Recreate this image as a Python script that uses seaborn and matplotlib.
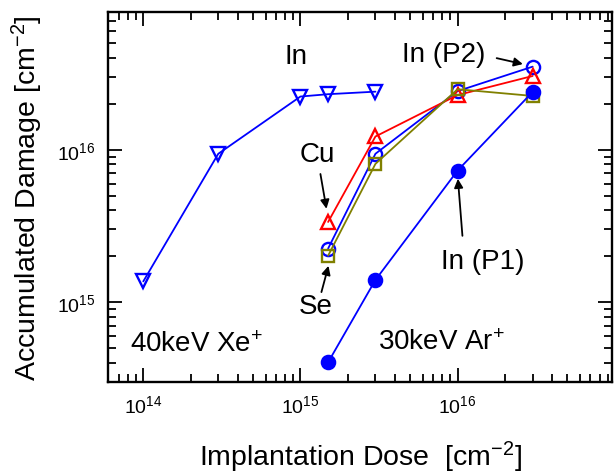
import numpy as np
import pandas as pd
import matplotlib
matplotlib.use("Agg")
import matplotlib.pyplot as plt
import seaborn as sns
from matplotlib.ticker import LogLocator, NullFormatter

# dose values [cm^-2]
xe_dose = [1e14, 3e14, 1e15, 1.5e15, 3e15]
ar_dose = [1.5e15, 3e15, 1e16, 3e16]

# accumulated damage [cm^-2]
in_xe = [1.37e15, 9.4e15, 2.23e16, 2.31e16, 2.4e16]
in_p2 = [2.25e15, 9.4e15, 2.42e16, 3.5e16]
cu = [3.36e15, 1.22e16, 2.28e16, 3.04e16]
se = [2.02e15, 8.07e15, 2.49e16, 2.25e16]
in_p1 = [4.04e14, 1.4e15, 7.3e15, 2.39e16]

series = [
    # name, dose, damage, color, marker, filled
    ("In Xe", xe_dose, in_xe, "#0000ff", "v", False),
    ("In (P2)", ar_dose, in_p2, "#0000ff", "o", False),
    ("Cu", ar_dose, cu, "#ff0000", "^", False),
    ("Se", ar_dose, se, "#808000", "s", False),
    ("In (P1)", ar_dose, in_p1, "#0000ff", "o", True),
]

sns.set_style("ticks")
plt.rcParams["font.family"] = ["Liberation Sans", "DejaVu Sans"]
plt.rcParams["mathtext.fontset"] = "custom"
plt.rcParams["mathtext.rm"] = "Liberation Sans"
plt.rcParams["mathtext.it"] = "Liberation Sans:italic"
for key in ["text.color", "axes.labelcolor", "xtick.color", "ytick.color",
            "axes.edgecolor"]:
    plt.rcParams[key] = "black"

fig = plt.figure(figsize=(6.16, 4.77), dpi=100)
ax = fig.add_axes([0.176, 0.197, 0.8175, 0.776])

for name, xs, ys, col, mk, filled in series:
    df = pd.DataFrame({"dose": xs, "damage": ys})
    sns.lineplot(data=df, x="dose", y="damage", ax=ax, color=col, lw=1.3,
                 marker=mk, markersize=9.5 if mk != "s" else 8.5,
                 markerfacecolor=col if filled else "none",
                 markeredgecolor=col, markeredgewidth=1.7, sort=False)

ax.set_xscale("log")
ax.set_yscale("log")
ax.set_xlim(6e13, 9.6e16)
ax.set_ylim(3e14, 8e16)

for axis in (ax.xaxis, ax.yaxis):
    axis.set_major_locator(LogLocator(base=10, numticks=10))
    axis.set_minor_locator(LogLocator(base=10, subs=np.arange(2, 10), numticks=100))
    axis.set_minor_formatter(NullFormatter())

ax.tick_params(which="both", direction="in", top=True, right=True, width=1.3)
ax.tick_params(which="major", length=10, labelsize=14, pad=9)
ax.tick_params(which="minor", length=5.5)
for sp in ax.spines.values():
    sp.set_linewidth(1.7)

ax.set_xlabel(r"Implantation Dose  [cm$^{-2}$]", fontsize=20.5, labelpad=16)
ax.set_ylabel(r"Accumulated Damage [cm$^{-2}$]", fontsize=20.5, labelpad=9)

tkw = dict(transform=ax.transAxes, fontsize=20, ha="center", va="center")
ax.text(0.372, 0.881, "In", **tkw)
ax.text(0.043, 0.085, r"40keV Xe$^{+}$", transform=ax.transAxes, fontsize=20,
        ha="left", va="baseline")
ax.text(0.535, 0.089, r"30keV Ar$^{+}$", transform=ax.transAxes, fontsize=20,
        ha="left", va="baseline")

arrow = dict(arrowstyle="-|>", color="black", lw=1.3, mutation_scale=13,
             shrinkA=0, shrinkB=0)
notes = [
    ("In (P2)", (0.666, 0.886), (0.771, 0.875), (0.823, 0.859)),
    ("Cu", (0.415, 0.616), (0.421, 0.562), (0.433, 0.468)),
    ("Se", (0.411, 0.205), (0.423, 0.243), (0.437, 0.314)),
    ("In (P1)", (0.743, 0.327), (0.703, 0.395), (0.694, 0.549)),
]
for label, tpos, start, end in notes:
    ax.text(tpos[0], tpos[1], label, **tkw)
    ax.annotate("", xy=end, xycoords="axes fraction", xytext=start,
                textcoords="axes fraction", arrowprops=arrow)

fig.savefig("out.png", dpi=100)
